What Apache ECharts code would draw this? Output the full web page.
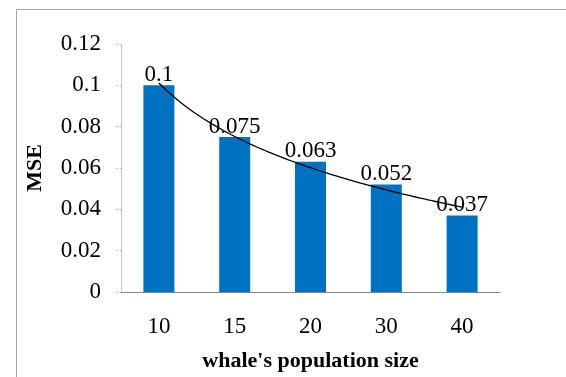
<!DOCTYPE html>
<html>
<head>
<meta charset="utf-8">
<script src="https://cdn.jsdelivr.net/npm/echarts@6/dist/echarts.min.js"></script>
<style>
  html, body { margin: 0; padding: 0; background: #fff; }
  #chart { width: 566px; height: 377px; }
</style>
</head>
<body>
<div id="chart"></div>
<script>
// Population sizes tested and the mean squared error obtained for each
const populationSizes = ['10', '15', '20', '30', '40'];
const mseValues = [0.1, 0.075, 0.063, 0.052, 0.037];
const yTicks = [0, 0.02, 0.04, 0.06, 0.08, 0.1, 0.12];

// Logarithmic least-squares trendline over category positions 1..n: y = a + b*ln(x)
function logTrend(values) {
  const n = values.length;
  const lx = values.map((_, i) => Math.log(i + 1));
  const mx = lx.reduce((s, v) => s + v, 0) / n;
  const my = values.reduce((s, v) => s + v, 0) / n;
  let sxy = 0, sxx = 0;
  for (let i = 0; i < n; i++) {
    sxy += (lx[i] - mx) * (values[i] - my);
    sxx += (lx[i] - mx) * (lx[i] - mx);
  }
  const b = sxy / sxx;
  const a = my - b * mx;
  const pts = [];
  for (let x = 1; x <= n + 1e-9; x += 0.05) pts.push([x, a + b * Math.log(x)]);
  return pts;
}

const serif = "'Liberation Serif', 'Times New Roman', serif";
const chart = echarts.init(document.getElementById('chart'), null, { renderer: 'canvas' });

chart.setOption({
  animation: false,
  backgroundColor: '#ffffff',
  graphic: [{
    type: 'rect',
    left: 14, top: 7,
    shape: { width: 600, height: 420 },
    style: { fill: 'none', stroke: '#a6a6a6', lineWidth: 1 },
    silent: true
  }],
  grid: { left: 121, right: 66, top: 44, bottom: 78 },
  xAxis: [{
    type: 'category',
    data: populationSizes,
    name: "whale's population size",
    nameLocation: 'middle',
    nameGap: 58,
    nameTextStyle: { fontFamily: serif, fontSize: 22, fontWeight: 'bold', color: '#000' },
    axisLine: { lineStyle: { color: '#868686', width: 1.2 } },
    axisTick: { length: 5, lineStyle: { color: '#868686' } },
    axisLabel: { fontFamily: serif, fontSize: 23, color: '#000', margin: 23 }
  }, {
    type: 'value',
    min: 0.5, max: populationSizes.length + 0.5,
    show: false
  }],
  yAxis: {
    type: 'value',
    min: 0, max: 0.12, interval: 0.02,
    name: 'MSE',
    nameLocation: 'middle',
    nameGap: 75,
    nameRotate: 90,
    nameTextStyle: { fontFamily: serif, fontSize: 22, fontWeight: 'bold', color: '#000' },
    axisLine: { show: true, lineStyle: { color: '#b5b5b5', type: 'dotted', width: 1 } },
    axisTick: { show: true, length: 5, lineStyle: { color: '#b5b5b5', type: 'dotted' } },
    splitLine: { show: false },
    axisLabel: {
      fontFamily: serif, fontSize: 23, color: '#000', margin: 20,
      formatter: v => {
        const t = yTicks.find(k => Math.abs(k - v) < 1e-9);
        return String(t !== undefined ? t : +v.toFixed(2));
      }
    }
  },
  series: [{
    type: 'bar',
    data: mseValues,
    barWidth: 31,
    itemStyle: { color: '#0070c0' },
    label: {
      show: true, position: 'top', distance: -1,
      fontFamily: serif, fontSize: 23, color: '#000',
      formatter: p => String(p.value)
    }
  }, {
    type: 'line',
    xAxisIndex: 1,
    data: logTrend(mseValues),
    showSymbol: false,
    symbol: 'none',
    lineStyle: { color: '#000', width: 1.3 },
    z: 5
  }]
});
</script>
</body>
</html>
